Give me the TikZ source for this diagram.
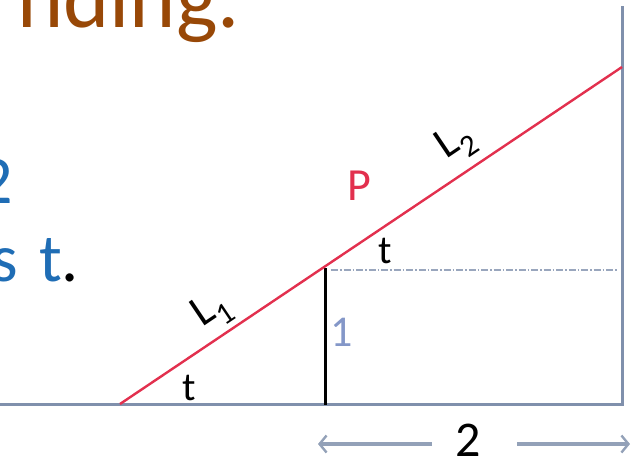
\documentclass[tikz,border=0pt]{standalone}
\usepackage{fontspec}
\setmainfont{Carlito}
\usetikzlibrary{arrows.meta}
\definecolor{slidebrown}{HTML}{984807}
\definecolor{slideblue}{HTML}{1F6DB5}
\definecolor{axisgray}{HTML}{8090AC}
\definecolor{linered}{HTML}{E2304E}
\definecolor{onegray}{HTML}{8497C8}
\begin{document}
\begin{tikzpicture}[x=1pt,y=-1pt,
  axisline/.style={draw=axisgray,line width=3pt},
  redline/.style={draw=linered,line width=2.4pt},
  blkline/.style={draw=black,line width=3pt},
  dashdotline/.style={draw=axisgray!80,line width=1.3pt,dash pattern=on 7pt off 2pt on 1.5pt off 2pt},
  arr/.style={draw=axisgray!85,line width=3.2pt,-{Straight Barb[length=7pt,width=17pt,line width=2.4pt]}},
  lbl/.style={inner sep=0pt,font=\fontsize{40}{48}\selectfont},
  bluetext/.style={inner sep=0pt,text=slideblue,font=\fontsize{68}{80}\selectfont},
]
\useasboundingbox (0,0) rectangle (633,459);
% slide text fragments
\node[anchor=base east,inner sep=0pt,text=slidebrown,font=\fontsize{88}{100}\selectfont] (head) at (240,27) {nding.};
\node[bluetext,anchor=base east] (line1) at (13,203) {2};
\node[bluetext,anchor=base east] (line2s) at (18,281) {s};
\node[bluetext,anchor=base west] (line2t) at (39,281) {t\textcolor{black}{.}};
% geometry
\coordinate (O) at (0,404);
\coordinate (C) at (622,404);
\coordinate (T) at (622,6);
\coordinate (A) at (120,404);
\coordinate (E) at (622,67);
\coordinate (P) at (325,268);
\coordinate (F) at (325,405);
\coordinate (Ps) at (331,270);
\coordinate (D) at (618,270);
\draw[axisline] (O) -- (C) -- (T);
\draw[dashdotline] (Ps) -- (D);
\draw[blkline] (P) -- (F);
\draw[redline] (A) -- (E);
% labels
\node[lbl,text=linered,font=\fontsize{46}{54}\selectfont] (Plab) at (359,186) {P};
\node[lbl] (t1) at (189,388) {t};
\node[lbl] (t2) at (385,251) {t};
\node[lbl,text=onegray,font=\fontsize{44}{52}\selectfont] (one) at (342,332) {1};
\node[lbl,rotate=34,font=\fontsize{44}{52}\selectfont] (L1) at (212,311) {L\textsubscript{1}};
\node[lbl,rotate=34,font=\fontsize{44}{52}\selectfont] (L2) at (456,143) {L\textsubscript{2}};
% dimension 2
\node[lbl,font=\fontsize{50}{60}\selectfont] (two) at (468,440) {2};
\coordinate (ltail) at (432,444);
\coordinate (ltip) at (318,444);
\coordinate (rtail) at (517,444);
\coordinate (rtip) at (630,444);
\draw[arr] (ltail) -- (ltip);
\draw[arr] (rtail) -- (rtip);
\end{tikzpicture}
\end{document}
